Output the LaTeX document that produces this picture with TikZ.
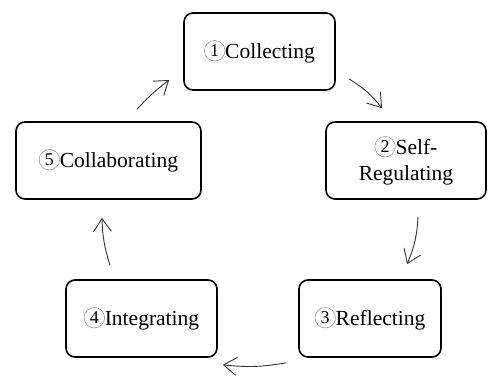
\documentclass[tikz,border=0pt]{standalone}
\usepackage{fontspec}
\setmainfont{Liberation Serif}
\usetikzlibrary{arrows.meta}
\newcommand\cnum[1]{\tikz[baseline={([yshift=-7.4pt]cc.center)}]{\node[circle,draw=black!45,line width=0.5pt,minimum size=20.5pt,inner sep=0pt,font=\fontsize{18}{18}\selectfont](cc){#1};}}
\tikzset{
  stage/.style={draw=black, line width=1.6pt, rounded corners=9pt, inner sep=0pt,
    minimum height=77pt, align=center, font=\fontsize{21.5}{26}\selectfont},
  conn/.style={draw=black!80, line width=0.9pt, -{Straight Barb[length=13pt,width=18pt]}}
}
\begin{document}
\begin{tikzpicture}[x=1pt,y=-1pt]
\useasboundingbox[fill=white] (0,0) rectangle (488,376);
\node[stage, minimum width=151pt] (n1) at (259.5,51.5) {\cnum{1}Collecting};
\node[stage, minimum width=160pt] (n2) at (406,160.5) {\cnum{2}Self-\\Regulating};
\node[stage, minimum width=142pt] (n3) at (370,318.5) {\cnum{3}Reflecting};
\node[stage, minimum width=151pt] (n4) at (141.5,318.5) {\cnum{4}Integrating};
\node[stage, minimum width=185pt] (n5) at (108.5,160.5) {\cnum{5}Collaborating};
\draw[conn] ([shift={(13,-12)}]n1.south east) to[bend left=10] ([shift={(-24,-13)}]n2.north);
\draw[conn] ([shift={(12,17)}]n2.south) to[bend left=10] ([shift={(37,-15)}]n3.north);
\draw[conn] ([shift={(-12,5)}]n3.south west) to[bend left=8] ([shift={(5,7)}]n4.south east);
\draw[conn] ([shift={(-31.5,-14)}]n4.north) to[bend left=8] ([shift={(-6.5,18)}]n5.south);
\draw[conn] ([shift={(28.5,-12)}]n5.north) to[bend left=5] ([shift={(-14,28.5)}]n1.west);
\end{tikzpicture}
\end{document}
